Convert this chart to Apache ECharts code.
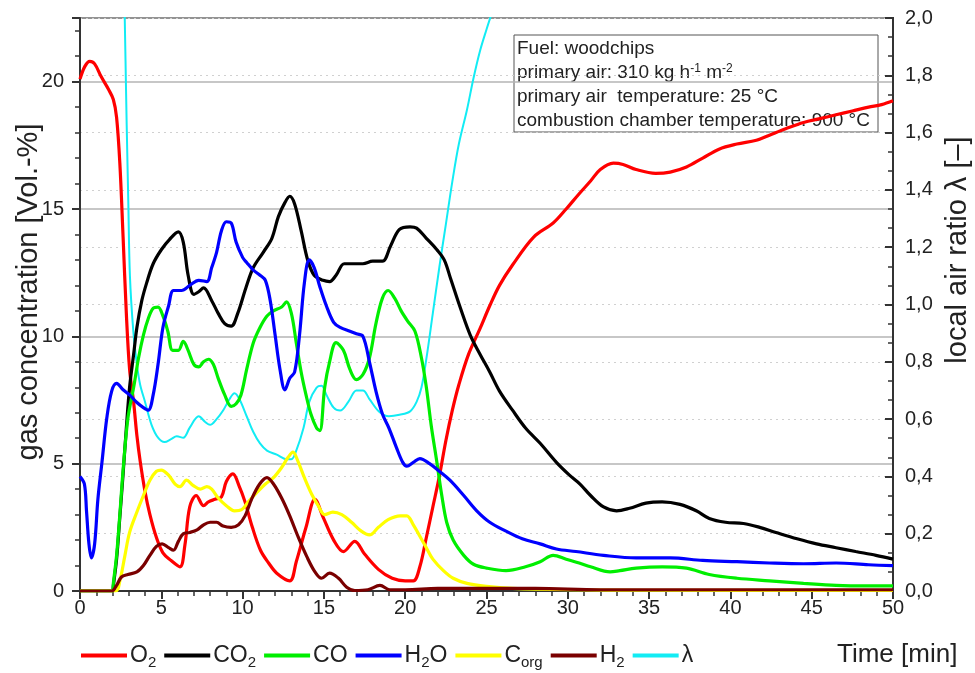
<!DOCTYPE html>
<html>
<head>
<meta charset="utf-8">
<script src="https://cdn.jsdelivr.net/npm/echarts@6/dist/echarts.min.js"></script>
<style>
  html, body { margin: 0; padding: 0; background: #fff; }
  #chart { width: 975px; height: 673px; }
</style>
</head>
<body>
<div id="chart"></div>
<script>
// time [min] / value pairs
const o2 = [[0,20.1],[0.3,20.6],[0.6,20.8],[0.9,20.7],[1.3,20.2],[1.75,19.7],[2.05,19.3],[2.25,18.6],[2.45,16.8],[2.65,13.9],[2.85,10.9],[3.05,8.7],[3.3,7.4],[3.5,6.1],[3.7,5.1],[4.0,3.9],[4.3,3.0],[4.7,2.1],[5.1,1.5],[5.6,1.2],[6.15,0.95],[6.45,1.8],[6.75,3.3],[7.15,3.75],[7.6,3.35],[7.9,3.5],[8.3,3.6],[8.7,3.7],[9.0,4.3],[9.4,4.6],[9.8,4.1],[10.15,3.5],[10.6,2.5],[11.1,1.6],[11.6,1.1],[12.1,0.7],[12.9,0.4],[13.3,1.15],[13.9,2.5],[14.45,3.6],[14.95,2.9],[15.6,2.0],[16.2,1.55],[16.9,1.95],[17.5,1.45],[18.35,0.85],[19.2,0.5],[20.0,0.4],[20.5,0.4],[20.9,0.95],[21.3,2.1],[21.7,3.3],[22.1,4.5],[22.5,5.9],[22.9,7.1],[23.3,8.1],[23.9,9.3],[24.6,10.3],[25.2,11.2],[25.8,12.0],[26.6,12.8],[27.9,13.9],[29.1,14.45],[29.9,15.0],[30.7,15.6],[31.4,16.1],[32.0,16.55],[32.8,16.8],[33.4,16.75],[34.2,16.55],[35.4,16.4],[36.3,16.45],[37.3,16.65],[38.3,17.0],[39.3,17.35],[40.4,17.55],[41.6,17.7],[42.4,17.9],[43.4,18.15],[44.5,18.4],[45.5,18.55],[46.5,18.7],[47.5,18.85],[48.5,19.0],[49.3,19.1],[50,19.25]];

const co2 = [[0,0],[2.0,0],[2.05,0.2],[2.25,1.25],[2.45,2.9],[2.65,4.6],[2.85,6.4],[3.05,8.0],[3.3,9.3],[3.5,10.35],[3.8,11.4],[4.1,12.1],[4.5,12.85],[5.0,13.4],[5.5,13.8],[6.05,14.1],[6.35,13.7],[6.65,12.4],[7.0,11.65],[7.3,11.75],[7.6,11.9],[8.1,11.4],[8.5,10.9],[8.9,10.5],[9.3,10.4],[9.7,10.9],[10.2,11.9],[10.66,12.7],[11.27,13.3],[11.8,13.85],[12.2,14.7],[12.6,15.25],[12.9,15.5],[13.2,15.2],[13.6,14.15],[14.0,13.0],[14.4,12.4],[14.95,12.2],[15.35,12.15],[15.75,12.4],[16.25,12.85],[16.8,12.85],[17.4,12.85],[18.0,12.95],[18.6,12.95],[19.1,13.55],[19.65,14.2],[20.3,14.3],[20.7,14.25],[21.3,13.85],[21.95,13.4],[22.4,13.0],[22.8,12.25],[23.4,11.1],[24.0,10.05],[24.6,9.3],[25.2,8.6],[25.8,7.85],[26.6,7.1],[27.4,6.4],[28.3,5.8],[29.3,5.05],[30.1,4.55],[30.75,4.2],[31.4,3.75],[32.2,3.3],[33.0,3.15],[33.8,3.25],[34.8,3.45],[35.8,3.5],[36.9,3.4],[37.9,3.15],[38.7,2.85],[39.7,2.7],[40.8,2.65],[41.8,2.5],[42.8,2.3],[44.1,2.05],[45.3,1.85],[46.5,1.7],[47.7,1.55],[48.95,1.4],[50,1.25]];

const co = [[0,0],[2.0,0],[2.05,0.3],[2.25,1.4],[2.45,3.0],[2.65,4.75],[2.95,6.8],[3.3,8.0],[3.6,9.15],[3.9,10.05],[4.2,10.7],[4.5,11.1],[4.8,11.15],[5.1,10.8],[5.4,10.2],[5.7,9.45],[6.05,9.45],[6.35,9.8],[6.65,9.45],[7.0,8.9],[7.3,8.8],[7.6,9.0],[7.9,9.1],[8.2,8.9],[8.5,8.35],[8.9,7.7],[9.3,7.25],[9.6,7.35],[9.9,7.7],[10.25,8.7],[10.66,9.75],[11.07,10.35],[11.5,10.8],[11.9,11.0],[12.4,11.15],[12.7,11.35],[13.0,10.9],[13.3,9.75],[13.6,8.6],[13.9,7.7],[14.2,6.95],[14.55,6.4],[14.75,6.3],[15.05,8.0],[15.35,9.0],[15.75,9.75],[16.2,9.45],[16.6,8.7],[17.0,8.3],[17.4,8.5],[17.8,9.15],[18.2,10.5],[18.6,11.5],[18.95,11.8],[19.35,11.5],[19.75,11.0],[20.15,10.6],[20.6,10.2],[21.0,9.15],[21.3,8.0],[21.6,6.5],[21.95,5.05],[22.25,3.75],[22.55,2.7],[22.95,2.0],[23.6,1.4],[24.2,1.05],[25.0,0.9],[26.2,0.8],[27.4,0.95],[28.3,1.15],[29.1,1.4],[29.9,1.25],[30.7,1.1],[31.4,0.95],[32.6,0.75],[33.2,0.8],[34.2,0.9],[35.8,0.95],[37.3,0.9],[38.7,0.65],[40.4,0.5],[42.4,0.4],[44.5,0.3],[46.5,0.22],[48.5,0.2],[50,0.2]];

const h2o = [[0,4.5],[0.27,4.2],[0.4,3.15],[0.55,1.85],[0.7,1.3],[0.9,1.85],[1.1,3.6],[1.35,5.05],[1.65,6.8],[1.95,7.85],[2.25,8.15],[2.65,7.9],[3.05,7.7],[3.5,7.4],[3.9,7.2],[4.2,7.1],[4.5,7.7],[4.8,8.9],[5.1,10.35],[5.45,11.2],[5.75,11.8],[6.25,11.8],[6.75,12.0],[7.3,12.2],[7.8,12.15],[8.1,12.7],[8.4,13.3],[8.7,14.15],[9.0,14.5],[9.3,14.45],[9.6,13.7],[10.0,13.1],[10.25,12.9],[10.66,12.6],[11.07,12.4],[11.4,12.2],[11.7,11.4],[12.0,10.05],[12.3,8.7],[12.6,7.9],[12.9,8.35],[13.2,8.6],[13.5,10.05],[13.8,12.1],[14.1,13.0],[14.4,12.7],[14.75,11.95],[15.15,11.2],[15.6,10.55],[16.0,10.35],[16.6,10.2],[17.0,10.1],[17.4,10.0],[17.8,9.0],[18.2,7.85],[18.6,6.95],[19.0,6.4],[19.45,5.65],[19.85,5.05],[20.1,4.9],[20.5,5.05],[20.9,5.2],[21.5,5.0],[22.1,4.7],[22.75,4.35],[23.6,3.75],[24.4,3.15],[25.2,2.7],[26.2,2.35],[27.2,2.05],[28.3,1.85],[29.3,1.65],[30.5,1.55],[32.2,1.4],[34.2,1.3],[36.3,1.3],[38.3,1.2],[40.4,1.15],[42.4,1.1],[44.5,1.07],[46.5,1.1],[48.5,1.03],[50,1.0]];

const corg = [[0,0],[2.2,0],[2.45,0.4],[2.75,1.35],[3.05,2.3],[3.5,3.1],[3.9,3.75],[4.3,4.35],[4.7,4.7],[5.0,4.75],[5.45,4.55],[5.85,4.2],[6.15,4.1],[6.55,4.35],[6.95,4.15],[7.4,4.0],[7.8,4.1],[8.1,4.0],[8.5,3.65],[9.0,3.35],[9.5,3.15],[9.95,3.2],[10.35,3.5],[10.85,3.85],[11.4,4.2],[11.9,4.45],[12.4,4.85],[12.8,5.25],[13.1,5.45],[13.4,5.1],[13.8,4.45],[14.25,3.8],[14.65,3.35],[15.05,3.0],[15.55,3.1],[16.1,3.0],[16.7,2.7],[17.3,2.35],[17.8,2.2],[18.35,2.5],[18.95,2.8],[19.7,2.95],[20.1,2.95],[20.5,2.6],[20.9,2.15],[21.3,1.7],[21.7,1.25],[22.35,0.8],[22.95,0.5],[23.8,0.3],[25.0,0.18],[26.6,0.1],[30,0.05],[35,0.03],[50,0.02]];

const h2 = [[0,0],[1.95,0],[2.25,0.22],[2.55,0.55],[2.95,0.65],[3.5,0.75],[3.9,1.0],[4.3,1.4],[4.7,1.75],[5.05,1.85],[5.45,1.7],[5.75,1.6],[6.05,1.95],[6.35,2.25],[6.75,2.3],[7.2,2.4],[7.6,2.6],[8.0,2.7],[8.4,2.7],[8.8,2.55],[9.3,2.5],[9.75,2.6],[10.15,2.95],[10.55,3.6],[11.05,4.2],[11.5,4.45],[11.9,4.2],[12.4,3.65],[12.9,2.95],[13.4,2.15],[13.95,1.35],[14.45,0.75],[14.85,0.5],[15.35,0.7],[15.9,0.5],[16.4,0.15],[16.9,0.02],[17.7,0.05],[18.45,0.22],[19.05,0.05],[20,0.05],[22,0.1],[28,0.1],[32,0.05],[50,0.05]];

// local air ratio, right axis
const lambda = [[2.72,2.1],[2.8,1.85],[2.87,1.63],[2.97,1.36],[3.07,1.1],[3.28,0.906],[3.5,0.79],[3.7,0.72],[4.0,0.66],[4.4,0.58],[4.8,0.535],[5.2,0.52],[5.6,0.53],[5.95,0.54],[6.35,0.535],[6.75,0.57],[7.3,0.61],[7.7,0.59],[8.0,0.58],[8.4,0.6],[8.8,0.63],[9.2,0.67],[9.5,0.69],[9.8,0.67],[10.25,0.61],[10.66,0.555],[11.07,0.515],[11.5,0.49],[12.1,0.476],[12.7,0.46],[13.0,0.46],[13.3,0.49],[13.75,0.57],[14.1,0.66],[14.55,0.71],[14.85,0.716],[15.15,0.685],[15.6,0.64],[16.0,0.63],[16.5,0.66],[17.0,0.7],[17.4,0.7],[17.8,0.67],[18.4,0.626],[19.0,0.61],[19.65,0.615],[20.3,0.627],[20.7,0.66],[21.0,0.71],[21.3,0.81],[21.7,0.97],[22.1,1.13],[22.5,1.28],[22.9,1.43],[23.3,1.56],[23.8,1.68],[24.2,1.79],[24.6,1.885],[25.0,1.96],[25.4,2.03],[25.8,2.1]];

const seriesNames = ['O2', 'CO2', 'CO', 'H2O', 'Corg', 'H2', 'λ'];
const legendLabels = ['O{s|2}', 'CO{s|2}', 'CO', 'H{s|2}O', 'C{s|org}', 'H{s|2}', 'λ'];
const colors = ['#ff0000', '#000000', '#00ee00', '#0000ff', '#ffff00', '#7a0000', '#12ecf4'];
const seriesData = [o2, co2, co, h2o, corg, h2, lambda];

const infoLines = [
    'Fuel: woodchips',
    'primary air: 310 kg h{p|-1} m{p|-2}',
    'primary air  temperature: 25 °C',
    'combustion chamber temperature: 900 °C'
];

const FONT = '"Liberation Sans", Arial, sans-serif';

const chart = echarts.init(document.getElementById('chart'));

const option = {
    animation: false,
    backgroundColor: '#fff',
    grid: {
        left: 80, right: 82, top: 18, bottom: 82,
        show: true, borderColor: '#333', borderWidth: 2
    },
    legend: {
        left: 76, top: 639,
        itemWidth: 46, itemHeight: 4, itemGap: 8,
        icon: 'rect',
        data: seriesNames,
        formatter: name => legendLabels[seriesNames.indexOf(name)],
        textStyle: {
            fontFamily: FONT, fontSize: 23, color: '#222', padding: [0, 0, 0, -2],
            rich: {
                s: { fontFamily: FONT, fontSize: 15, color: '#222', padding: [15, 0, 0, 0] }
            }
        }
    },
    xAxis: {
        type: 'value', min: 0, max: 50, interval: 5,
        axisLine: { lineStyle: { color: '#333', width: 2 } },
        axisTick: { length: 8, lineStyle: { color: '#333', width: 2 } },
        minorTick: { show: true, splitNumber: 5, length: 5, lineStyle: { color: '#333', width: 1.5 } },
        axisLabel: { fontFamily: FONT, fontSize: 20, color: '#222', margin: 7 },
        splitLine: { show: false }
    },
    yAxis: [
        {
            type: 'value', min: 0, max: 22.5, interval: 5, position: 'left',
            axisLine: { show: true, lineStyle: { color: '#333', width: 2 } },
            axisTick: { show: true, length: 8, lineStyle: { color: '#333', width: 2 } },
            minorTick: { show: true, splitNumber: 5, length: 5, lineStyle: { color: '#333', width: 1.5 } },
            axisLabel: { fontFamily: FONT, fontSize: 20, color: '#222', margin: 16, showMaxLabel: false },
            splitLine: { show: true, lineStyle: { color: '#b4b4b4', width: 1.5 } }
        },
        {
            type: 'value', min: 0, max: 2, interval: 0.2, position: 'right',
            axisLine: { show: true, lineStyle: { color: '#333', width: 2 } },
            axisTick: { show: true, inside: true, length: 8, lineStyle: { color: '#333', width: 2 } },
            minorTick: { show: true, splitNumber: 3, length: 5, lineStyle: { color: '#333', width: 1.5 } },
            axisLabel: {
                fontFamily: FONT, fontSize: 20, color: '#222', margin: 12,
                formatter: v => v.toFixed(1).replace('.', ',')
            },
            splitLine: { show: true, lineStyle: { color: '#d0d0d0', width: 1, type: [2, 4] } }
        }
    ],
    series: seriesNames.map((name, i) => ({
        name: name,
        type: 'line',
        yAxisIndex: name === 'λ' ? 1 : 0,
        data: seriesData[i],
        showSymbol: false,
        smooth: 0.35,
        color: colors[i],
        lineStyle: { width: name === 'λ' ? 2 : 3.2, color: colors[i] },
        z: name === 'λ' ? 1 : 2
    })),
    graphic: [
        {
            type: 'text', x: 29, y: 292, rotation: Math.PI / 2,
            style: {
                text: 'gas concentration [Vol.-%]', font: '29px ' + FONT, fill: '#222',
                textAlign: 'center', textVerticalAlign: 'middle'
            }
        },
        {
            type: 'text', x: 958, y: 250, rotation: Math.PI / 2,
            style: {
                text: 'local air ratio λ [–]', font: '29px ' + FONT, fill: '#222',
                textAlign: 'center', textVerticalAlign: 'middle'
            }
        },
        {
            type: 'text', x: 837, y: 655,
            style: {
                text: 'Time [min]', font: '26px ' + FONT, fill: '#222',
                textAlign: 'left', textVerticalAlign: 'middle'
            }
        },
        {
            type: 'group', x: 514, y: 35,
            children: [
                {
                    type: 'rect', shape: { x: 0, y: 0, width: 364, height: 97 },
                    style: { fill: '#fff', stroke: '#555', lineWidth: 1 }
                },
                {
                    type: 'text', x: 3, y: 2,
                    style: {
                        text: infoLines.join('\n'),
                        fontFamily: FONT, fontSize: 19, lineHeight: 24, fill: '#222',
                        rich: {
                            p: { fontFamily: FONT, fontSize: 12, fill: '#222', padding: [0, 0, 9, 0] }
                        }
                    }
                }
            ]
        }
    ]
};

chart.setOption(option);
</script>
</body>
</html>
